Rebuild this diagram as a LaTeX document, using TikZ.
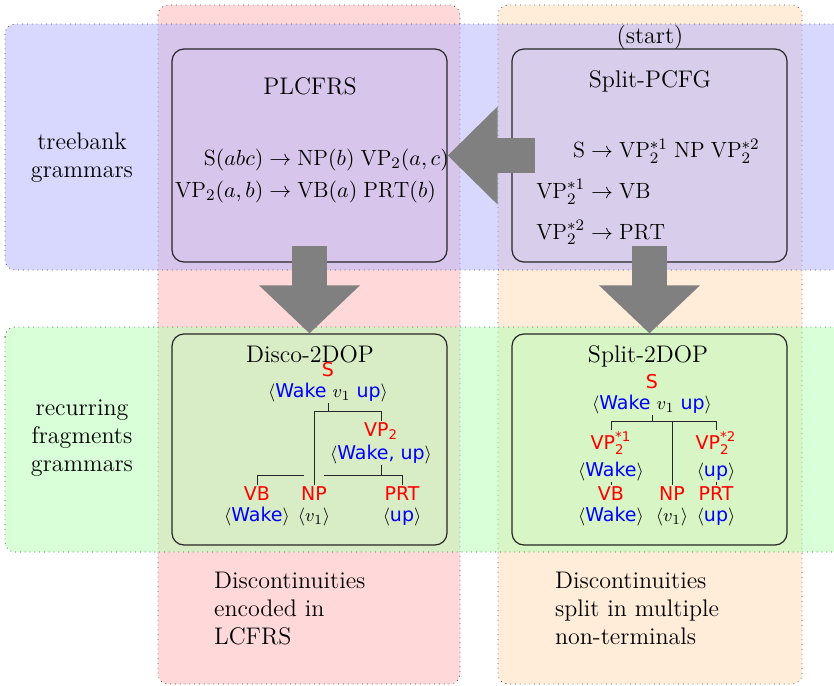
\documentclass[tikz,border=0pt]{standalone}
\usepackage{amsmath}
\usepackage{amssymb}
\usepackage{fontspec}
\usepackage{tikz}
\usetikzlibrary{arrows.meta,positioning}
\newfontfamily\treefont{DejaVu Sans}

\tikzstyle{column} = [draw=black!70, dotted, rounded corners=5pt]
\tikzstyle{band} = [draw=black!70, dotted, fill opacity=0.5, rounded corners=5pt]
\tikzstyle{gbox} = [draw=black!85, line width=0.6pt, rounded corners=6pt, minimum width=137.5pt]
\tikzstyle{bigarrow} = [draw=gray, line width=17.5pt]
\tikzstyle{lbl} = [font=\large, align=center]
\tikzstyle{rules} = [font=\fontsize{11}{13}\selectfont]
\tikzstyle{tnode} = [align=center, inner sep=0.5pt, font=\treefont\fontsize{9.5}{10.5}\selectfont]
\tikzstyle{tedge} = [draw=black!85, line width=0.5pt]

\newcommand{\cat}[1]{\textcolor{red}{#1}}
\newcommand{\lex}[1]{\textcolor{blue}{#1}}
\newcommand{\yld}[1]{$\langle$#1$\rangle$}

\begin{document}
\begin{tikzpicture}[x=0.5pt, y=-0.5pt]
    \clip (0,0) rectangle (834,685);
    % columns
    \draw[column, fill=red!15] (158,5) rectangle (460,684);
    \draw[column, fill=orange!15] (498,5) rectangle (802,684);
    % bands
    \draw[band, fill=blue!30] (5,24) rectangle (850,270);
    \draw[band, fill=green!30] (5,327) rectangle (850,552);

    % grammar boxes
    \node[gbox, minimum height=106.5pt] (plcfrs) at (309.5,155.5) {};
    \node[gbox, minimum height=106.5pt] (spcfg) at (649.5,155.5) {};
    \node[gbox, minimum height=105.5pt] (disco) at (309.5,439.5) {};
    \node[gbox, minimum height=105.5pt] (split) at (649.5,439.5) {};

    % big arrows
    \draw[bigarrow, -{Triangle[length=25pt,width=47.5pt]}] ([xshift=12pt]spcfg.west) -- (plcfrs.east);
    \draw[bigarrow, -{Triangle[length=24pt,width=49pt]}] ([yshift=8.5pt]plcfrs.south) -- (disco.north);
    \draw[bigarrow, -{Triangle[length=24pt,width=49pt]}] ([yshift=8.5pt]spcfg.south) -- (split.north);

    % band labels
    \node[lbl] (tbg) at (82,158) {treebank\\grammars};
    \node[lbl] (rfg) at (82,438) {recurring\\fragments\\grammars};
    \node[lbl, anchor=base] (start) at (650,43) {(start)};

    % treebank grammars
    \node[lbl, anchor=base] (plcfrst) at (310,94) {PLCFRS};
    \node[lbl, anchor=base] (spcfgt) at (650,87) {Split-PCFG};
    \node[rules] (plcfrsr) at (312,176) {$\begin{array}{r@{}l}
        \mathrm{S}(abc) & {}\rightarrow \mathrm{NP}(b)\;\mathrm{VP}_2(a,c)\\[3pt]
        \mathrm{VP}_2(a,b) & {}\rightarrow \mathrm{VB}(a)\;\mathrm{PRT}(b)
      \end{array}$};
    \node[rules] (spcfgr) at (648,193) {$\begin{array}{r@{}l}
        \mathrm{S} & {}\rightarrow \mathrm{VP}_2^{*1}\;\mathrm{NP}\;\mathrm{VP}_2^{*2}\\[7pt]
        \mathrm{VP}_2^{*1} & {}\rightarrow \mathrm{VB}\\[7pt]
        \mathrm{VP}_2^{*2} & {}\rightarrow \mathrm{PRT}
      \end{array}$};

    % fragment grammars
    \node[lbl, anchor=base] (discot) at (310,362) {Disco-2DOP};
    \node[lbl, anchor=base] (splitt) at (648,362) {Split-2DOP};

    % Disco-2DOP tree
    \node[tnode] (dS) at (328,382) {\cat{S}\\\yld{\lex{Wake} $v_1$ \lex{up}}};
    \node[tnode] (dVP) at (381,443) {\cat{VP$_{\text{2}}$}\\[1pt]\yld{\lex{Wake, up}}};
    \node[tnode] (dVB) at (257,506) {\cat{VB}\\\yld{\lex{Wake}}};
    \node[tnode] (dNP) at (314,506) {\cat{NP}\\\yld{$v_1$}};
    \node[tnode] (dPRT) at (402,506) {\cat{PRT}\\\yld{\lex{up}}};
    \coordinate (dSbar) at ([yshift=-4pt]dS.south);
    \coordinate (dVPbar) at ([yshift=-5pt]dVP.south);
    \coordinate (dx) at (dNP.north |- dVPbar);
    \coordinate (dgapL) at ([xshift=-5pt]dx);
    \coordinate (dgapR) at ([xshift=5pt]dx);
    \draw[tedge] (dS.south) -- (dSbar);
    \draw[tedge] (dNP.north) |- (dSbar) -| (dVP.north);
    \draw[tedge] (dVP.south) -- (dVPbar);
    \draw[tedge] (dVB.north) |- (dgapL);
    \draw[tedge] (dgapR) -| (dPRT.north);

    % Split-2DOP tree
    \node[tnode] (sS) at (652,394) {\cat{S}\\\yld{\lex{Wake} $v_1$ \lex{up}}};
    \node[tnode] (sVPa) at (611,456) {\cat{VP$_{\text{2}}^{\text{*1}}$}\\[3pt]\yld{\lex{Wake}}};
    \node[tnode] (sVPb) at (716,456) {\cat{VP$_{\text{2}}^{\text{*2}}$}\\[3pt]\yld{\lex{up}}};
    \node[tnode] (sVB) at (611,506) {\cat{VB}\\\yld{\lex{Wake}}};
    \node[tnode] (sNP) at (672,506) {\cat{NP}\\\yld{$v_1$}};
    \node[tnode] (sPRT) at (716,506) {\cat{PRT}\\\yld{\lex{up}}};
    \coordinate (sSbar) at ([yshift=-3pt]sS.south);
    \draw[tedge] (sS.south) -- (sSbar);
    \draw[tedge] (sVPa.north) |- (sSbar) -| (sVPb.north);
    \draw[tedge] (sNP.north) -- (sNP.north |- sSbar);
    \draw[tedge] (sVPa.south) -- (sVB.north);
    \draw[tedge] (sVPb.south) -- (sPRT.north);

    % notes
    \node[lbl, align=left, anchor=north west] (dnote) at (207,565) {Discontinuities\\encoded in\\LCFRS};
    \node[lbl, align=left, anchor=north west] (snote) at (548,565) {Discontinuities\\split in multiple\\non-terminals};
\end{tikzpicture}
\end{document}
